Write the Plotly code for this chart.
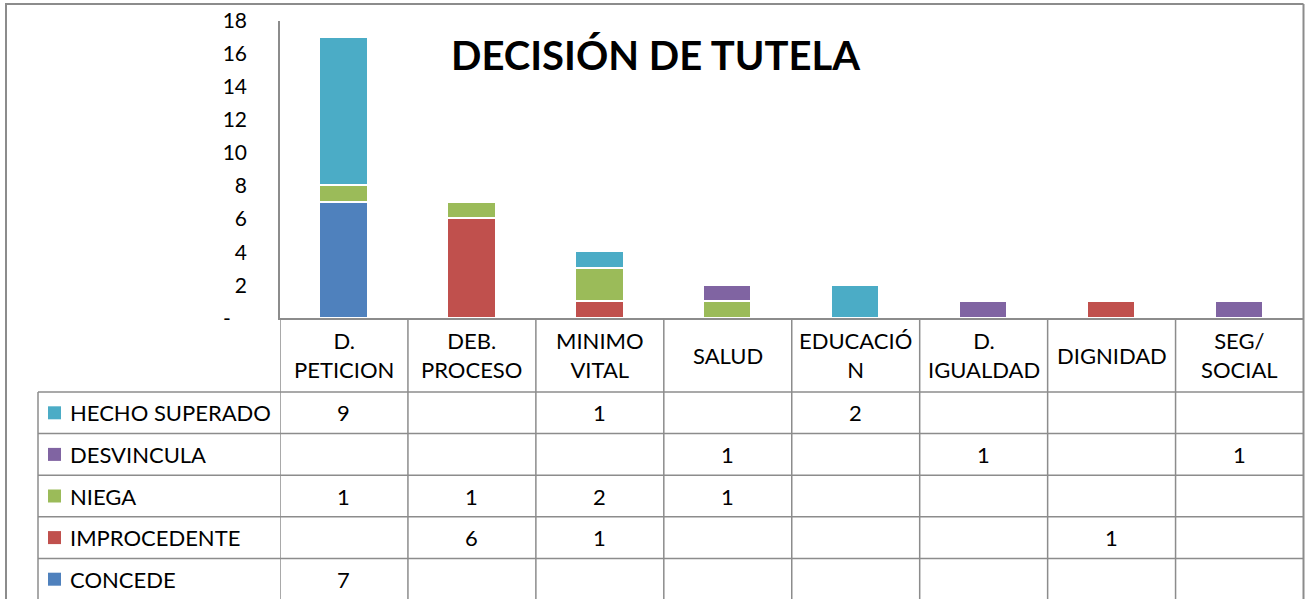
import plotly.graph_objects as go

categories = ["D. PETICION", "DEB. PROCESO", "MINIMO VITAL", "SALUD",
              "EDUCACIÓN", "D. IGUALDAD", "DIGNIDAD", "SEG/ SOCIAL"]
category_labels = ["D.<br>PETICION", "DEB.<br>PROCESO", "MINIMO<br>VITAL", "SALUD",
                   "EDUCACIÓ<br>N", "D.<br>IGUALDAD", "DIGNIDAD", "SEG/<br>SOCIAL"]

concede = [7, None, None, None, None, None, None, None]
improcedente = [None, 6, 1, None, None, None, 1, None]
niega = [1, 1, 2, 1, None, None, None, None]
desvincula = [None, None, None, 1, None, 1, None, 1]
hecho_superado = [9, None, 1, None, 2, None, None, None]

y_ticks = [0, 2, 4, 6, 8, 10, 12, 14, 16, 18]
y_ticktext = ["-\u00a0\u00a0\u00a0", "2", "4", "6", "8", "10", "12", "14", "16", "18"]

series = [
    ("CONCEDE", concede, "#4F81BD"),
    ("IMPROCEDENTE", improcedente, "#C0504D"),
    ("NIEGA", niega, "#9BBB59"),
    ("DESVINCULA", desvincula, "#8064A2"),
    ("HECHO SUPERADO", hecho_superado, "#4BACC6"),
]
# table rows in displayed order (top to bottom)
table_rows = list(reversed(series))

W, H = 1311, 599
FONT = "Lato"
GRID = "#8C8C8C"


def px(x):
    return x / W


def py(y):
    return 1 - y / H


fig = go.Figure()
for name, vals, color in series:
    fig.add_trace(go.Bar(
        x=list(range(len(categories))), y=vals, name=name,
        marker=dict(color=color, line=dict(color="white", width=1.5)),
        width=0.37, showlegend=False,
    ))

x_left, x_right = 280, 1303.5
y_zero, y_top = 318.3, 20.7
header_bottom = 392
row_h = 41.6

shapes = []
# outer frame
shapes.append(dict(type="line", xref="paper", yref="paper", x0=px(5), x1=px(x_right), y0=py(4), y1=py(4),
                   line=dict(color=GRID, width=2)))
shapes.append(dict(type="line", xref="paper", yref="paper", x0=px(6), x1=px(6), y0=py(4), y1=py(H + 5),
                   line=dict(color=GRID, width=2)))
shapes.append(dict(type="line", xref="paper", yref="paper", x0=px(x_right), x1=px(x_right), y0=py(4), y1=py(H + 5),
                   line=dict(color=GRID, width=2)))
# vertical table lines at category boundaries
n = len(categories)
for i in range(n):
    shapes.append(dict(type="line", xref="x", yref="paper", x0=i - 0.5, x1=i - 0.5,
                       y0=py(y_zero), y1=py(H + 5), line=dict(color=GRID, width=1.5)))
# legend column left line
shapes.append(dict(type="line", xref="paper", yref="paper", x0=px(38), x1=px(38),
                   y0=py(header_bottom), y1=py(H + 5), line=dict(color=GRID, width=1.5)))
# horizontal table lines
for r in range(len(table_rows) + 1):
    yy = header_bottom + r * row_h
    shapes.append(dict(type="line", xref="paper", yref="paper", x0=px(38), x1=px(x_right),
                       y0=py(yy), y1=py(yy), line=dict(color=GRID, width=1.5)))

annotations = []
# title
annotations.append(dict(text="<b>DECISIÓN DE TUTELA</b>", xref="paper", yref="paper",
                        x=px(655), y=py(55), showarrow=False, xanchor="center", yanchor="middle",
                        font=dict(family=FONT, size=40, color="black")))
# header labels
for i, lab in enumerate(category_labels):
    annotations.append(dict(text=lab, xref="x", yref="paper", x=i, y=py(355), showarrow=False,
                            xanchor="center", yanchor="middle",
                            font=dict(family=FONT, size=22, color="black")))
# table rows
for r, (name, vals, color) in enumerate(table_rows):
    yc = header_bottom + (r + 0.5) * row_h
    shapes.append(dict(type="rect", xref="paper", yref="paper", x0=px(48), x1=px(61),
                       y0=py(yc - 6.5), y1=py(yc + 6.5), fillcolor=color, line=dict(width=0)))
    annotations.append(dict(text=name, xref="paper", yref="paper", x=px(68), y=py(yc), showarrow=False,
                            xanchor="left", yanchor="middle",
                            font=dict(family=FONT, size=22, color="black")))
    for i, v in enumerate(vals):
        if v is not None:
            annotations.append(dict(text=str(v), xref="x", yref="paper", x=i, y=py(yc), showarrow=False,
                                    xanchor="center", yanchor="middle",
                                    font=dict(family=FONT, size=22, color="black")))

fig.update_layout(
    width=W, height=H, margin=dict(l=0, r=0, t=0, b=0, pad=0, autoexpand=False),
    paper_bgcolor="white", plot_bgcolor="white",
    barmode="stack", bargap=0,
    xaxis=dict(domain=[px(x_left), px(x_right)], range=[-0.5, n - 0.5], showticklabels=False,
               showgrid=False, zeroline=False, showline=True, linecolor=GRID, linewidth=1.5,
               ticks="", fixedrange=True, automargin=False),
    yaxis=dict(domain=[py(y_zero), py(y_top)], range=[0, 18], tickvals=y_ticks, ticktext=y_ticktext,
               showgrid=False, zeroline=False, showline=True, linecolor=GRID, linewidth=1.5,
               ticks="", ticklabelstandoff=27, tickfont=dict(family=FONT, size=21, color="black"),
               fixedrange=True, automargin=False),
    shapes=shapes, annotations=annotations,
)

fig.write_html(
    "out.html",
    config={"displayModeBar": False},
    post_script="document.body.style.margin='0';document.body.style.overflow='hidden';",
)
